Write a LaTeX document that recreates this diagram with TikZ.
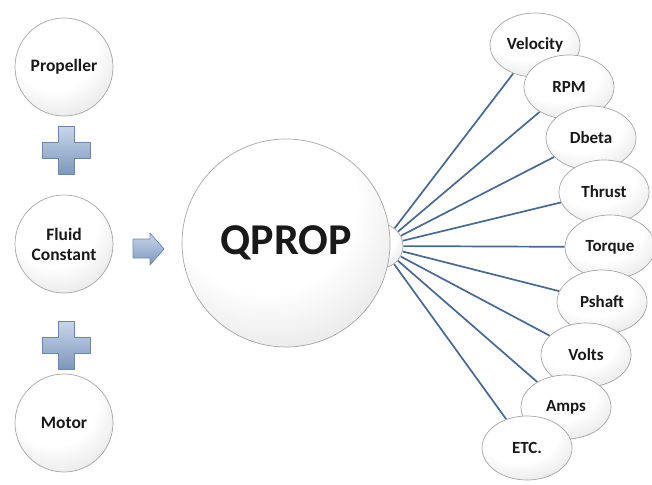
\documentclass[tikz,border=0pt]{standalone}
\usepackage{fontspec}
\setmainfont{Carlito}
\usetikzlibrary{shapes.geometric}
\pgfdeclarelayer{background}
\pgfsetlayers{background,main}
\definecolor{linkblue}{HTML}{4A6890}
\definecolor{plustop}{HTML}{C8D6EA}
\definecolor{plusbot}{HTML}{7E97BE}
\definecolor{plusedge}{HTML}{6D86AB}
\pgfdeclareradialshading{sphere}{\pgfpoint{-8bp}{16bp}}{color(0bp)=(white); color(22bp)=(white); color(38bp)=(black!11); color(52bp)=(black!22); color(62bp)=(black!34)}
\tikzset{
  ball/.style={circle, draw=black!35, line width=0.7pt, shading=sphere, inner sep=0pt, align=center, text=black!90,
    font=\bfseries\fontsize{17.5}{20}\selectfont},
  oval/.style={ellipse, draw=black!35, line width=0.7pt, shading=sphere, inner sep=0pt,
    minimum width=90pt, minimum height=64pt, text=black!90, font=\bfseries\fontsize{17}{20}\selectfont},
  link/.style={draw=linkblue, line width=1.7pt},
  bluefill/.style={top color=plustop, bottom color=plusbot, draw=plusedge, line width=0.7pt, line join=round}
}
\begin{document}
\begin{tikzpicture}[x=1pt,y=-1pt]
\useasboundingbox (0,0) rectangle (652,484);
% left inputs
\node[ball, minimum size=98pt] (prop) at (64,67) {Propeller};
\node[ball, minimum size=98pt] (fluid) at (64,244) {Fluid\\Constant};
\node[ball, minimum size=98pt] (motor) at (64,423) {Motor};
% plus signs
\foreach \cy in {150,345}{
  \begin{scope}[shift={(66,\cy)}]
    \path[bluefill] (-8,-24) -- (8,-24) -- (8,-8) -- (24,-8) -- (24,8) -- (8,8) -- (8,24)
      -- (-8,24) -- (-8,8) -- (-24,8) -- (-24,-8) -- (-8,-8) -- cycle;
  \end{scope}
}
% arrow
\path[bluefill] (133,239) -- (150,239) -- (150,233) -- (164,249) -- (150,265) -- (150,258) -- (133,258) -- cycle;
% hub and main circle
\node[circle, draw=black!35, line width=0.7pt, shading=sphere, minimum size=44pt, inner sep=0pt] (hub) at (381,246) {};
\node[ball, minimum size=208pt, font=\bfseries\fontsize{44}{48}\selectfont] (qprop) at (286,243) {QPROP};
% outputs
\node[oval] (vel) at (535,45) {Velocity};
\node[oval] (rpm) at (569,87) {RPM};
\node[oval] (dbeta) at (591,138) {Dbeta};
\node[oval] (thrust) at (604,192) {Thrust};
\node[oval] (torque) at (610,247) {Torque};
\node[oval] (pshaft) at (602,302) {Pshaft};
\node[oval] (volts) at (586,355) {Volts};
\node[oval] (amps) at (566,407) {Amps};
\node[oval] (etc) at (527,448) {ETC.};
\begin{pgfonlayer}{background}
\foreach \n in {vel,rpm,dbeta,thrust,torque,pshaft,volts,amps,etc}
  \draw[link] (hub) -- (\n);
\end{pgfonlayer}
\end{tikzpicture}
\end{document}
